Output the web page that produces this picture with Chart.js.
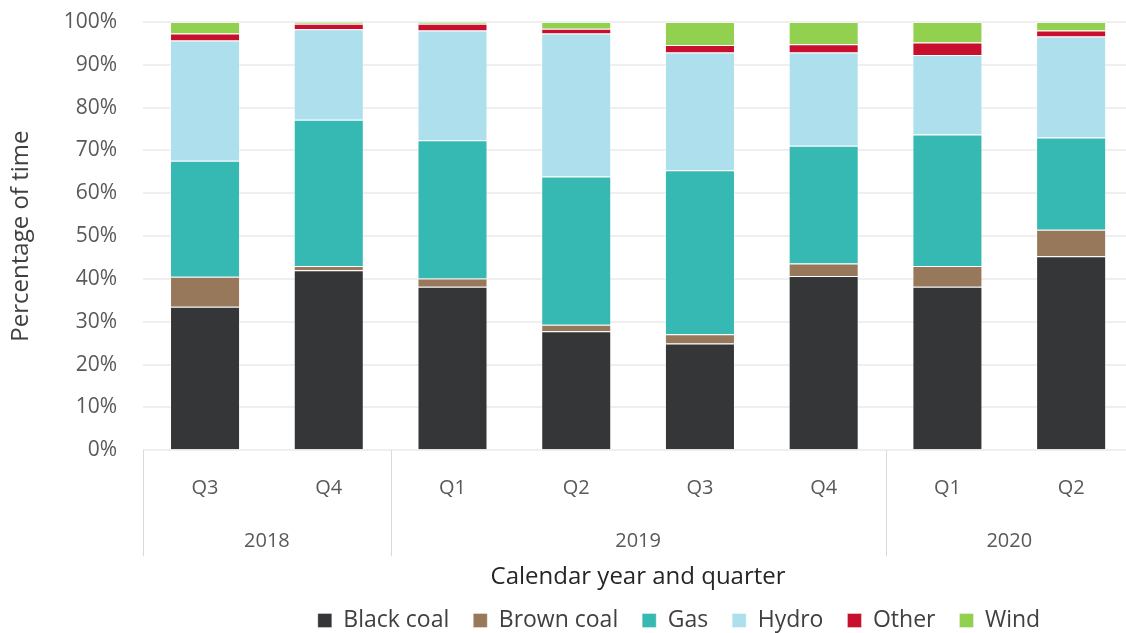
<!DOCTYPE html>
<html>
<head>
<meta charset="utf-8">
<script src="https://cdn.jsdelivr.net/npm/chart.js@4"></script>
<style>
  body { margin: 0; background: #fff; overflow: hidden; }
  #wrap { width: 1126px; height: 633px; overflow: hidden; }
</style>
</head>
<body>
<div id="wrap"><canvas id="genChart" width="1134" height="633"></canvas></div>
<script>
// categories
var quarters = ['Q3', 'Q4', 'Q1', 'Q2', 'Q3', 'Q4', 'Q1', 'Q2'];
var years = ['2018', '2018', '2019', '2019', '2019', '2019', '2020', '2020'];

// % of time each fuel sets the price
var blackCoal = [33.5, 42.0, 38.2, 27.8, 24.9, 40.7, 38.2, 45.3];
var brownCoal = [7.0, 1.0, 1.9, 1.5, 2.2, 2.9, 4.8, 6.2];
var gas = [27.1, 34.2, 32.3, 34.6, 38.3, 27.5, 30.7, 21.5];
var hydro = [28.1, 21.1, 25.6, 33.4, 27.5, 21.8, 18.6, 23.6];
var other = [1.6, 1.3, 1.6, 1.1, 1.7, 1.9, 2.9, 1.4];
var wind = [2.7, 0.4, 0.4, 1.6, 5.4, 5.2, 4.8, 2.0];

var FONT = '"Open Sans", "Noto Sans", sans-serif';

function ds(label, data, color) {
  return {
    label: label,
    data: data,
    backgroundColor: color,
    borderColor: 'rgba(255,255,255,0.35)',
    borderWidth: 1,
    barPercentage: 0.566,
    categoryPercentage: 1.0
  };
}

// year row under the quarter labels, with the group separators
var yearGroups = {
  id: 'yearGroups',
  afterDraw: function(chart) {
    var x = chart.scales.x;
    var area = chart.chartArea;
    var ctx = chart.ctx;
    var edge = function(i) {
      if (i <= 0) return area.left;
      if (i >= years.length) return area.right;
      return (x.getPixelForValue(i - 1) + x.getPixelForValue(i)) / 2;
    };
    ctx.save();
    ctx.strokeStyle = '#d9d9d9';
    ctx.lineWidth = 1;
    ctx.fillStyle = '#595959';
    ctx.font = '20px ' + FONT;
    ctx.textAlign = 'center';
    ctx.textBaseline = 'middle';
    var start = 0;
    for (var i = 1; i <= years.length; i++) {
      if (i === years.length || years[i] !== years[start]) {
        var l = edge(start), r = edge(i);
        ctx.beginPath();
        ctx.moveTo(Math.round(l) + 0.5, area.bottom);
        ctx.lineTo(Math.round(l) + 0.5, area.bottom + 106);
        ctx.stroke();
        ctx.fillText(years[start], (l + r) / 2, area.bottom + 91);
        start = i;
      }
    }
    ctx.restore();
  }
};

// legend sits right of centre in the original
var legendShift = {
  id: 'legendShift',
  afterLayout: function(chart) {
    var lg = chart.legend;
    var dx = 679 - (lg.left + lg.right) / 2;
    lg.left += dx;
    lg.right += dx;
  }
};

var ctx = document.getElementById('genChart');
var genChart = new Chart(ctx, {
  type: 'bar',
  data: {
    labels: quarters,
    datasets: [
      ds('Black coal', blackCoal, '#353638'),
      ds('Brown coal', brownCoal, '#98785b'),
      ds('Gas', gas, '#35b9b2'),
      ds('Hydro', hydro, '#aedfed'),
      ds('Other', other, '#c8102e'),
      ds('Wind', wind, '#92d050')
    ]
  },
  options: {
    responsive: false,
    animation: false,
    layout: { padding: { top: 22, left: 7, right: 1, bottom: -9 } },
    plugins: {
      tooltip: { enabled: false },
      legend: {
        position: 'bottom',
        labels: {
          boxWidth: 14,
          boxHeight: 14,
          padding: 24,
          color: '#404040',
          font: { family: FONT, size: 23 }
        }
      }
    },
    scales: {
      x: {
        stacked: true,
        grid: { display: false },
        border: { display: false },
        ticks: { color: '#595959', padding: 18, font: { family: FONT, size: 20 } },
        title: {
          display: true,
          text: 'Calendar year and quarter',
          color: '#262626',
          padding: { top: 45, bottom: -7 },
          font: { family: FONT, size: 24 }
        }
      },
      y: {
        stacked: true,
        min: 0,
        max: 100,
        border: { display: false },
        grid: { color: '#efefef', lineWidth: 2, drawTicks: false },
        ticks: {
          stepSize: 10,
          color: '#595959',
          padding: 26,
          font: { family: FONT, size: 21 },
          callback: function(value) { return value + '%'; }
        },
        // tick padding is only wanted sideways, not above/below the axis
        afterFit: function(scale) {
          scale.paddingTop = 0;
          scale.paddingBottom = 0;
        },
        title: {
          display: true,
          text: 'Percentage of time',
          color: '#404040',
          padding: { top: 0, bottom: 2 },
          font: { family: FONT, size: 24 }
        }
      }
    }
  },
  plugins: [yearGroups, legendShift]
});
</script>
</body>
</html>
